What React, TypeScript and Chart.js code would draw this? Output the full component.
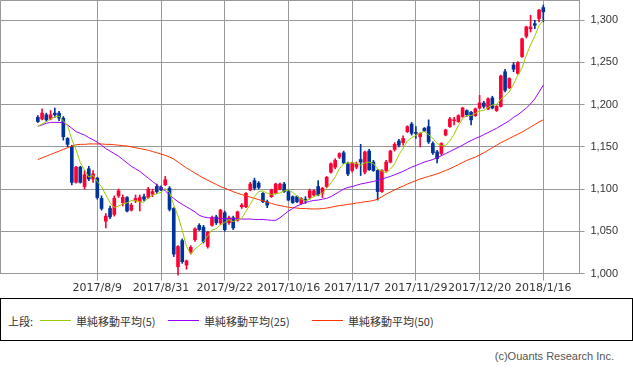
import React, { useEffect, useRef } from "react";
import { Chart, registerables } from "chart.js";
Chart.register(...registerables);

// Trading days shown (one candle each)
const dates = [
  "2017/7/20","2017/7/21","2017/7/24","2017/7/25","2017/7/26","2017/7/27","2017/7/28","2017/7/31",
  "2017/8/1","2017/8/2","2017/8/3","2017/8/4","2017/8/7","2017/8/8","2017/8/9","2017/8/10","2017/8/14","2017/8/15","2017/8/16","2017/8/17","2017/8/18",
  "2017/8/21","2017/8/22","2017/8/23","2017/8/24","2017/8/25","2017/8/28","2017/8/29","2017/8/30","2017/8/31",
  "2017/9/1","2017/9/4","2017/9/5","2017/9/6","2017/9/7","2017/9/8","2017/9/11","2017/9/12","2017/9/13","2017/9/14","2017/9/15",
  "2017/9/19","2017/9/20","2017/9/21","2017/9/22","2017/9/25","2017/9/26","2017/9/27","2017/9/28","2017/9/29",
  "2017/10/2","2017/10/3","2017/10/4","2017/10/5","2017/10/6","2017/10/10","2017/10/11","2017/10/12","2017/10/13",
  "2017/10/16","2017/10/17","2017/10/18","2017/10/19","2017/10/20","2017/10/23","2017/10/24","2017/10/25","2017/10/26","2017/10/27","2017/10/30","2017/10/31",
  "2017/11/1","2017/11/2","2017/11/6","2017/11/7","2017/11/8","2017/11/9","2017/11/10","2017/11/13","2017/11/14","2017/11/15","2017/11/16","2017/11/17",
  "2017/11/20","2017/11/21","2017/11/22","2017/11/24","2017/11/27","2017/11/28","2017/11/29","2017/11/30",
  "2017/12/1","2017/12/4","2017/12/5","2017/12/6","2017/12/7","2017/12/8","2017/12/11","2017/12/12","2017/12/13","2017/12/14","2017/12/15",
  "2017/12/18","2017/12/19","2017/12/20","2017/12/21","2017/12/22","2017/12/25","2017/12/26","2017/12/27","2017/12/28","2017/12/29",
  "2018/1/4","2018/1/5","2018/1/9","2018/1/10","2018/1/11","2018/1/12","2018/1/15","2018/1/16",
];

const opens = [
  1185,1183,1188,1183,1190,1190,1184,1160,1150,1108,
  1126,1103,1124,1112,1113,1089,1062,1077,1070,1092,
  1084,1090,1075,1086,1085,1091,1090,1094,1103,1102,
  1105,1101,1077,1008,1039,1010,1025,1040,1057,1055,
  1032,1057,1067,1060,1072,1060,1066,1063,1079,1079,
  1099,1110,1107,1095,1085,1091,1095,1100,1106,1097,
  1091,1091,1083,1088,1090,1093,1103,1095,1103,1120,
  1126,1138,1143,1130,1122,1126,1135,1120,1145,1132,
  1122,1097,1122,1132,1147,1157,1155,1168,1177,1167,
  1162,1172,1174,1154,1144,1142,1164,1174,1181,1180,
  1186,1193,1191,1187,1196,1202,1195,1208,1193,1198,
  1239,1220,1247,1237,1257,1281,1290,1296,1302,1315,
];
const highs = [
  1187,1195,1190,1193,1196,1192,1186,1161,1152,1127,
  1127,1122,1127,1122,1114,1092,1071,1080,1092,1100,
  1093,1091,1083,1093,1093,1094,1102,1100,1106,1104,
  1115,1103,1078,1033,1041,1016,1033,1054,1059,1057,
  1050,1068,1069,1076,1074,1068,1068,1074,1083,1096,
  1108,1113,1109,1096,1087,1100,1107,1107,1108,1099,
  1092,1092,1090,1091,1100,1099,1110,1102,1115,1131,
  1136,1143,1145,1132,1132,1132,1153,1145,1147,1134,
  1123,1123,1134,1146,1155,1159,1163,1175,1179,1174,
  1167,1173,1182,1156,1146,1155,1171,1185,1185,1188,
  1197,1194,1192,1196,1211,1204,1208,1210,1199,1235,
  1242,1232,1250,1251,1279,1293,1306,1300,1313,1318,
];
const lows = [
  1179,1182,1180,1182,1185,1181,1158,1150,1105,1107,
  1107,1100,1110,1108,1088,1075,1054,1065,1068,1090,
  1080,1073,1074,1084,1074,1086,1089,1091,1095,1098,
  1104,1074,1020,998,1012,1005,1023,1038,1051,1036,
  1030,1056,1058,1058,1050,1058,1052,1062,1077,1078,
  1098,1099,1100,1084,1078,1090,1094,1099,1096,1086,
  1083,1084,1082,1083,1088,1092,1092,1090,1102,1119,
  1124,1136,1130,1116,1120,1124,1116,1118,1122,1121,
  1087,1096,1121,1131,1145,1150,1152,1167,1164,1160,
  1150,1168,1154,1141,1131,1140,1163,1173,1176,1179,
  1185,1186,1176,1186,1195,1196,1194,1195,1192,1197,
  1215,1219,1239,1236,1256,1279,1286,1290,1298,1298,
];
const closes = [
  1180,1190,1182,1188,1188,1184,1162,1153,1108,1126,
  1108,1117,1112,1118,1090,1077,1068,1067,1089,1098,
  1090,1074,1081,1089,1090,1088,1100,1097,1097,1099,
  1111,1076,1023,1032,1014,1015,1031,1053,1052,1038,
  1049,1066,1060,1075,1052,1066,1054,1073,1081,1095,
  1106,1101,1102,1085,1081,1099,1106,1106,1097,1087,
  1084,1085,1089,1086,1098,1098,1093,1101,1114,1130,
  1134,1142,1131,1118,1131,1130,1132,1144,1123,1122,
  1097,1122,1132,1145,1153,1152,1160,1174,1166,1166,
  1166,1169,1156,1143,1136,1154,1170,1183,1182,1187,
  1196,1188,1182,1195,1202,1198,1207,1196,1198,1234,
  1217,1231,1242,1250,1278,1292,1292,1294,1312,1310,
];

const ma5 = [
  1174.5,1177,1180,1183,1185.6,1186.4,1180.8,1175,1159,1146.6,
  1131.4,1122.4,1114.2,1116.2,1109,1102.8,1093,1084,1078.2,1079.8,
  1082.4,1083.6,1086.4,1086.4,1084.8,1084.4,1089.6,1092.8,1094.4,1096.2,
  1100.8,1096,1081.2,1068.2,1051.2,1032,1023,1029,1033,1037.8,
  1044.6,1051.6,1053,1057.6,1060.4,1063.8,1061.4,1064,1065.2,1073.8,
  1081.8,1091.2,1097,1097.8,1095,1093.6,1094.6,1095.4,1097.8,1099,
  1096,1091.8,1088.4,1086.2,1088.4,1091.2,1092.8,1095.2,1100.8,1107.2,
  1114.4,1124.2,1130.2,1131,1131.2,1130.4,1128.4,1131,1132,1130.2,
  1123.6,1121.6,1119.2,1123.6,1129.8,1140.8,1148.4,1156.8,1161,1163.6,
  1166.4,1168.2,1164.6,1160,1154,1151.6,1151.8,1157.2,1165,1175.2,
  1183.6,1187.2,1187,1189.6,1192.6,1193,1196.8,1199.6,1200.2,1206.6,
  1210.4,1215.2,1224.4,1234.8,1243.6,1258.6,1270.8,1281.2,1293.6,1300,
];
const ma25 = [
  1174.5,1176,1178,1179,1179,1179,1178.5,1176,1172,1168,
  1166,1164,1161,1158.5,1155.5,1152,1148,1145,1142,1139,
  1135,1131,1127,1124,1121,1117,1113,1109,1105,1101,
  1098,1093,1089,1085,1082,1079,1076,1073,1069,1067,
  1066,1066,1065.5,1065,1065,1065,1065,1065,1064.5,1064.5,
  1064.5,1064,1064,1064,1063.5,1063,1063,1066,1070,1074,
  1077,1080,1082,1084,1085.5,1086.5,1087,1088,1089,1091,
  1094,1097,1100,1102,1103,1104.5,1106,1107,1108,1109,
  1110.5,1112,1113.5,1115,1117,1119,1121,1123.5,1126,1128,
  1130,1132,1133.5,1135,1137,1139.5,1142,1144.5,1147,1149.5,
  1152,1155,1157.5,1160,1162,1164.5,1167,1169.5,1172,1175,
  1178,1181,1185,1188,1192,1196,1201,1207,1215,1223,
];
const ma50 = [
  1135,1137,1139,1141,1143,1145,1147,1149,1151,1152.5,
  1153,1153,1153.5,1153.5,1153.5,1153.5,1153,1153,1152.5,1152,
  1151.5,1151,1150,1149,1148,1147,1146,1144.5,1143,1141.5,
  1140,1138,1135.5,1132,1128.5,1125,1122,1119,1116,1113,
  1110.5,1108,1105.5,1103,1101,1099,1097,1095,1093.5,1092,
  1090.5,1089,1087.5,1086,1084.5,1083,1081.5,1080.5,1079.5,1078.5,
  1078,1077.5,1077,1077,1076.5,1076.5,1076.5,1077,1077.5,1078.5,
  1079.5,1080.5,1081,1082,1082.5,1083.5,1084,1085,1085.5,1086.5,
  1088,1091,1094,1096.5,1099,1101.5,1103.5,1106,1108,1110,
  1112,1113.5,1115,1116.5,1118,1120,1122,1124,1126.5,1129,
  1131.5,1134,1136,1138,1140.5,1143,1146,1149,1152,1155,
  1157.5,1160,1162.5,1165,1167.5,1170.5,1173.5,1176.5,1179.5,1182,
];

const yTickValues = [1000, 1050, 1100, 1150, 1200, 1250, 1300];
const xTickDates = ["2017/8/9", "2017/8/31", "2017/9/22", "2017/10/16", "2017/11/7", "2017/11/29", "2017/12/20", "2018/1/16"];
const maNames = ["単純移動平均(5)", "単純移動平均(25)", "単純移動平均(50)"];
const maColors = ["#99cc00", "#9900ff", "#ff3300"];
const UP = "#ff0033";
const DOWN = "#003399";

export default function App() {
  const ref = useRef<HTMLCanvasElement>(null);

  useEffect(() => {
    const idx = dates.map((_, i) => i);
    const candleColors = idx.map((i) => (closes[i] >= opens[i] ? UP : DOWN));
    const maSeries = [ma5, ma25, ma50];

    const framePlugin = {
      id: "frame",
      beforeDatasetsDraw(chart: any) {
        const { ctx, chartArea: a } = chart;
        ctx.save();
        ctx.strokeStyle = "#999999";
        ctx.lineWidth = 1;
        ctx.beginPath();
        ctx.moveTo(Math.round(a.left) + 0.5, Math.round(a.bottom) - 0.5);
        ctx.lineTo(Math.round(a.left) + 0.5, Math.round(a.top) + 0.5);
        ctx.lineTo(Math.round(a.right) - 0.5, Math.round(a.top) + 0.5);
        ctx.stroke();
        ctx.restore();
      },
    };

    const chart = new Chart(ref.current as HTMLCanvasElement, {
      type: "bar",
      data: {
        datasets: [
          ...maSeries.map((s, k) => ({
            type: "line" as const,
            label: maNames[k],
            data: idx.map((i) => ({ x: i, y: s[i] })),
            borderColor: maColors[k],
            borderWidth: 1,
            pointRadius: 0,
            tension: 0,
            fill: false,
            order: 0,
          })),
          {
            type: "bar" as const,
            label: "body",
            data: idx.map((i) => ({ x: i, y: [opens[i], closes[i]] })),
            backgroundColor: candleColors,
            borderWidth: 0,
            grouped: false,
            categoryPercentage: 1,
            barPercentage: 1,
            maxBarThickness: 3,
            minBarLength: 1,
            order: 1,
            clip: false,
          },
          {
            type: "bar" as const,
            label: "wick",
            data: idx.map((i) => ({ x: i, y: [lows[i], highs[i]] })),
            backgroundColor: candleColors,
            borderWidth: 0,
            grouped: false,
            categoryPercentage: 1,
            barPercentage: 1,
            maxBarThickness: 1,
            order: 2,
            clip: false,
          },
        ] as any,
      },
      options: {
        animation: false,
        responsive: false,
        devicePixelRatio: 1,
        events: [],
        layout: { padding: 0 },
        plugins: { legend: { display: false }, tooltip: { enabled: false }, title: { display: false } },
        scales: {
          x: {
            type: "linear",
            min: -8.907,
            max: 127.52,
            offset: false,
            grid: { color: "#999999", lineWidth: 1, tickLength: 7, drawTicks: true, offset: false },
            border: { display: true, color: "#999999" },
            afterBuildTicks: (s: any) => {
              s.ticks = xTickDates.map((d) => ({ value: dates.indexOf(d) }));
            },
            afterFit: (s: any) => {
              s.height = 26.5;
              s.paddingLeft = 0;
              s.paddingRight = 0;
            },
            ticks: {
              autoSkip: false,
              maxRotation: 0,
              minRotation: 0,
              padding: 1,
              color: "#333333",
              font: { family: '"DejaVu Sans"', size: 11 },
              callback: (v: any) => dates[Number(v)] ?? "",
            },
          },
          y: {
            type: "linear",
            position: "right",
            min: 1000,
            max: 1324,
            beginAtZero: false,
            grid: { color: "#999999", lineWidth: 1, tickLength: 5, drawTicks: true },
            border: { display: true, color: "#999999" },
            afterBuildTicks: (s: any) => {
              s.ticks = yTickValues.map((v) => ({ value: v }));
            },
            afterFit: (s: any) => {
              s.width = 53.5;
              s.paddingTop = 0;
              s.paddingBottom = 0;
            },
            ticks: {
              padding: 6,
              color: "#333333",
              font: { family: '"Liberation Sans"', size: 11 },
              callback: (v: any) => Number(v).toLocaleString("en-US"),
            },
          },
        },
      } as any,
      plugins: [framePlugin],
    });
    return () => chart.destroy();
  }, []);

  const legendFont = '11px "Noto Sans CJK JP", "Noto Sans", sans-serif';
  const textStyle = (left: number): React.CSSProperties => ({
    position: "absolute",
    left,
    top: 313,
    lineHeight: "14px",
    font: legendFont,
    color: "#333",
    whiteSpace: "nowrap",
  });
  const lineStyle = (left: number, width: number, color: string): React.CSSProperties => ({
    position: "absolute",
    left,
    top: 320,
    width,
    height: 1,
    background: color,
  });

  return (
    <div style={{ position: "fixed", left: 0, top: 0, width: 633, height: 370, background: "#fff", overflow: "hidden" }}>
      <canvas ref={ref} width={633} height={300} style={{ position: "absolute", left: 0, top: 0, width: 633, height: 300 }} />
      <div
        style={{
          position: "absolute",
          left: 0,
          top: 298,
          width: 633,
          height: 43,
          border: "1px solid #000",
          boxSizing: "border-box",
          background: "#fff",
        }}
      />
      <span style={textStyle(8)}>上段:</span>
      <div style={lineStyle(40, 31, maColors[0])} />
      <span style={textStyle(76)}>{maNames[0]}</span>
      <div style={lineStyle(168, 31, maColors[1])} />
      <span style={textStyle(204)}>{maNames[1]}</span>
      <div style={lineStyle(312, 31, maColors[2])} />
      <span style={textStyle(348)}>{maNames[2]}</span>
      <span
        style={{
          position: "absolute",
          right: 19,
          top: 350,
          lineHeight: "14px",
          font: '11px "Liberation Sans", sans-serif',
          color: "#555",
          whiteSpace: "nowrap",
        }}
      >
        (c)Ouants Research Inc.
      </span>
    </div>
  );
}
